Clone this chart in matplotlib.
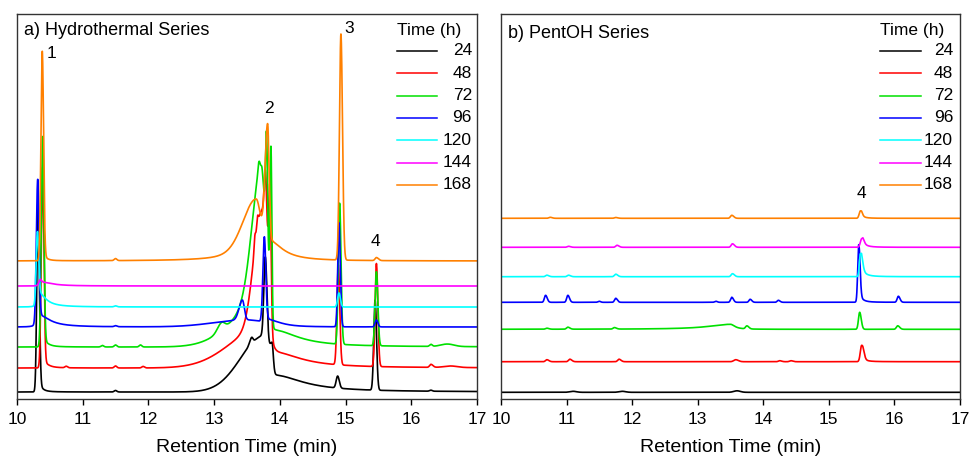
import numpy as np
import matplotlib
matplotlib.use("Agg")
import matplotlib.pyplot as plt

plt.rcParams["font.family"] = ["Liberation Sans", "DejaVu Sans"]

# reaction times and the trace colour used for each
times = ["24", "48", "72", "96", "120", "144", "168"]
colors = ["#000000", "#ff0000", "#00e000", "#0000ff", "#00ffff", "#ff00ff", "#ff8000"]

# vertical offset of each stacked chromatogram (arbitrary intensity units)
hydro_offsets = [7, 31, 52, 72, 92, 113, 138]
pentoh_offsets = [6.7, 37.3, 69.7, 96.7, 122.3, 151.7, 180.7]

# peaks: (retention time, height, left width, right width, shape)
# shape "g" = gaussian, "l" = lorentzian (used for tails and broad humps)
hydro_peaks = [
    [(10.32, 190, 0.018, 0.02, "g"), (10.34, 6, 0.01, 0.06, "l"),
     (11.5, 1.5, 0.02, 0.02, "g"), (13.75, 55, 0.35, 0.06, "g"),
     (13.57, 6, 0.03, 0.02, "g"), (13.78, 80, 0.022, 0.025, "g"),
     (13.88, 30, 0.05, 0.02, "g"), (13.9, 17, 0.05, 0.54, "l"),
     (14.88, 12, 0.022, 0.025, "g"), (15.45, 90, 0.02, 0.022, "g"),
     (16.3, 1, 0.02, 0.02, "g")],
    [(10.39, 200, 0.02, 0.02, "g"), (10.42, 5, 0.01, 0.08, "l"),
     (10.75, 1.5, 0.02, 0.02, "g"), (11.5, 2, 0.02, 0.02, "g"),
     (11.92, 1.5, 0.02, 0.02, "g"), (13.75, 40, 0.5, 0.08, "g"),
     (13.72, 115, 0.12, 0.06, "g"), (13.62, 12, 0.012, 0.012, "g"),
     (13.66, 10, 0.012, 0.012, "g"), (13.785, 90, 0.022, 0.022, "g"),
     (13.85, 145, 0.022, 0.018, "g"), (13.9, 16, 0.05, 0.5, "l"),
     (14.89, 100, 0.02, 0.022, "g"), (15.47, 103, 0.02, 0.022, "g"),
     (16.3, 3, 0.02, 0.03, "g"), (16.6, 1.5, 0.1, 0.1, "g")],
    [(10.39, 210, 0.02, 0.02, "g"), (10.42, 5, 0.01, 0.08, "l"),
     (11.3, 1.5, 0.02, 0.02, "g"), (11.5, 2, 0.02, 0.02, "g"),
     (11.88, 2, 0.02, 0.02, "g"), (13.11, 8, 0.06, 0.05, "g"),
     (13.75, 45, 0.45, 0.06, "g"), (13.72, 135, 0.14, 0.05, "g"),
     (13.68, 10, 0.015, 0.015, "g"), (13.80, 140, 0.018, 0.018, "g"),
     (13.865, 180, 0.018, 0.014, "g"), (13.9, 17, 0.05, 0.45, "l"),
     (14.91, 141, 0.02, 0.022, "g"), (15.47, 74, 0.02, 0.022, "g"),
     (16.3, 2, 0.02, 0.02, "g"), (16.55, 2.5, 0.1, 0.1, "g")],
    [(10.315, 138, 0.02, 0.02, "g"), (10.33, 12, 0.03, 0.2, "l"),
     (11.5, 1, 0.02, 0.02, "g"), (13.5, 7, 0.5, 0.3, "g"),
     (13.43, 20, 0.05, 0.03, "g"), (13.765, 85, 0.022, 0.022, "g"),
     (13.82, 4, 0.02, 0.25, "l"), (14.90, 104, 0.018, 0.02, "g"),
     (15.47, 7, 0.02, 0.022, "g")],
    [(10.31, 68, 0.018, 0.02, "g"), (10.33, 14, 0.02, 0.13, "l"),
     (11.5, 1, 0.02, 0.02, "g"), (14.90, 14, 0.02, 0.022, "g")],
    [(10.35, 3, 0.02, 0.02, "g"), (10.36, 4, 0.02, 0.2, "l")],
    [(10.385, 209, 0.02, 0.02, "g"), (10.41, 4, 0.01, 0.06, "l"),
     (11.5, 2, 0.02, 0.02, "g"), (13.64, 40, 0.2, 0.08, "g"),
     (13.64, 22, 0.3, 0.1, "l"), (13.815, 127, 0.04, 0.022, "g"),
     (13.85, 17, 0.01, 0.25, "l"), (14.93, 226, 0.022, 0.024, "g"),
     (15.47, 3, 0.02, 0.03, "g")],
]

pentoh_peaks = [
    [(11.1, 1, 0.05, 0.05, "g"), (11.85, 1, 0.05, 0.05, "g"),
     (13.6, 1.5, 0.05, 0.05, "g")],
    [(10.7, 2, 0.02, 0.03, "g"), (11.05, 2.5, 0.02, 0.03, "g"),
     (11.8, 2.5, 0.02, 0.03, "g"), (13.58, 2, 0.03, 0.04, "g"),
     (14.25, 1, 0.02, 0.03, "g"), (14.42, 1, 0.02, 0.03, "g"),
     (15.5, 16, 0.02, 0.03, "g"), (15.52, 2, 0.01, 0.08, "l")],
    [(10.7, 1, 0.02, 0.03, "g"), (11.02, 2, 0.02, 0.03, "g"),
     (11.73, 1.5, 0.02, 0.03, "g"), (13.5, 5, 0.4, 0.08, "l"),
     (13.75, 3, 0.02, 0.03, "g"), (15.47, 17, 0.018, 0.024, "g"),
     (16.05, 3.5, 0.02, 0.03, "g")],
    [(10.68, 7, 0.018, 0.025, "g"), (11.02, 7, 0.018, 0.025, "g"),
     (11.5, 1, 0.02, 0.02, "g"), (11.75, 4, 0.018, 0.025, "g"),
     (13.28, 1, 0.02, 0.02, "g"), (13.52, 5, 0.018, 0.025, "g"),
     (13.8, 3, 0.018, 0.025, "g"), (14.23, 2, 0.018, 0.025, "g"),
     (15.455, 56, 0.015, 0.02, "g"), (15.47, 5, 0.01, 0.06, "l"),
     (16.06, 6, 0.018, 0.025, "g")],
    [(10.7, 1.5, 0.02, 0.03, "g"), (11.03, 1.5, 0.02, 0.03, "g"),
     (11.75, 2.5, 0.02, 0.03, "g"), (13.53, 3, 0.02, 0.03, "g"),
     (15.48, 22, 0.015, 0.03, "g"), (15.5, 5, 0.01, 0.08, "l")],
    [(11.03, 1, 0.02, 0.03, "g"), (11.77, 2, 0.02, 0.03, "g"),
     (13.53, 3.5, 0.02, 0.03, "g"), (15.5, 8, 0.02, 0.03, "g"),
     (15.52, 3, 0.01, 0.08, "l")],
    [(10.75, 1, 0.02, 0.03, "g"), (11.75, 0.8, 0.02, 0.03, "g"),
     (13.52, 3, 0.02, 0.03, "g"), (15.48, 7, 0.018, 0.025, "g"),
     (15.5, 2, 0.01, 0.06, "l")],
]

# peak numbers: (retention time, intensity, label)
hydro_labels = [(10.53, 346, "1"), (13.83, 291, "2"), (15.06, 370, "3"), (15.46, 158, "4")]
pentoh_labels = [(15.50, 206, "4")]


def trace(x, offset, peaks):
    y = np.full_like(x, offset, dtype=float)
    for c, h, wl, wr, kind in peaks:
        u = (x - c) / np.where(x < c, wl, wr)
        if kind == "g":
            y += h * np.exp(-0.5 * u ** 2)
        else:
            y += h / (1 + u ** 2)
    return y


def draw_legend(ax, title_y, x0, x1, xr):
    ax.text(x0, title_y, "Time (h)", transform=ax.transAxes,
            ha="left", va="center", fontsize=12.5)
    for i, (lab, col) in enumerate(zip(times, colors)):
        yy = 0.904 - i * 0.058
        ax.plot([x0, x1], [yy, yy], color=col, lw=1.1, transform=ax.transAxes)
        ax.text(xr, yy, lab, transform=ax.transAxes,
                ha="right", va="center", fontsize=12.5)


x = np.linspace(10, 17, 7001)

fig = plt.figure(figsize=(9.69, 4.59), dpi=100)
ax_a = fig.add_axes([0.0175, 0.1307, 0.4747, 0.8388])
ax_b = fig.add_axes([0.517, 0.1307, 0.4737, 0.8388])

panels = [
    (ax_a, hydro_offsets, hydro_peaks, hydro_labels, "a) Hydrothermal Series", 0.958, 0.913, 0.989),
    (ax_b, pentoh_offsets, pentoh_peaks, pentoh_labels, "b) PentOH Series", 0.950, 0.915, 0.985),
]

for ax, offsets, peaks, labels, title, ty, hx, lx in panels:
    for off, pk, col in zip(offsets, peaks, colors):
        ax.plot(x, trace(x, off, pk), color=col, lw=1.2)
    for px, py, txt in labels:
        ax.text(px, py, txt, ha="center", va="center", fontsize=12.5)
    ax.text(0.015, ty, title, transform=ax.transAxes, ha="left", va="center", fontsize=13)
    draw_legend(ax, 0.957, 0.826, hx, lx)

    ax.set_xlim(10, 17)
    ax.set_ylim(0, 385)
    ax.set_xticks(range(10, 18))
    ax.set_yticks([])
    ax.tick_params(axis="x", direction="out", length=4, width=1, pad=5, labelsize=12.5)
    ax.set_xlabel("Retention Time (min)", fontsize=14, labelpad=9)
    for s in ax.spines.values():
        s.set_color("#333333")
        s.set_linewidth(1.0)

fig.savefig("out.png", dpi=100)
